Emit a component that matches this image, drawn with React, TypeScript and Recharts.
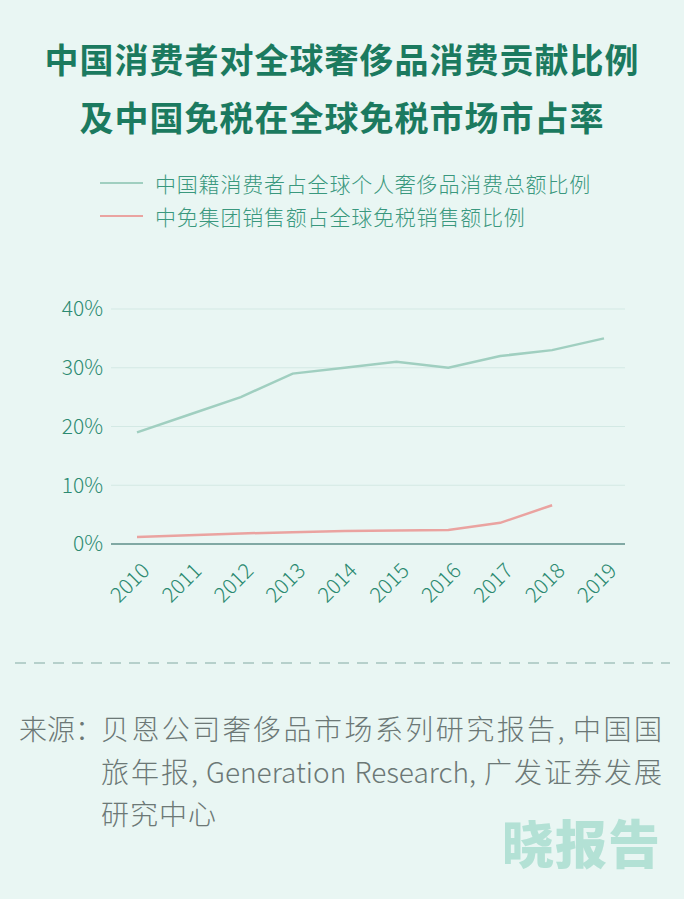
import React from "react";
import { LineChart, Line, XAxis, YAxis, CartesianGrid, Legend } from "recharts";

const years = ["2010", "2011", "2012", "2013", "2014", "2015", "2016", "2017", "2018", "2019"];
const chinaLuxuryShare = [19, 22, 25, 29, 30, 31, 30, 32, 33, 35];
const cdfgDutyFreeShare = [1.2, 1.5, 1.8, 2.0, 2.2, 2.3, 2.4, 3.6, 6.6, null];
const yTicks = [0, 10, 20, 30, 40];

const seriesNames = ["中国籍消费者占全球个人奢侈品消费总额比例", "中免集团销售额占全球免税销售额比例"];
const titleLines = ["中国消费者对全球奢侈品消费贡献比例", "及中国免税在全球免税市场市占率"];
const sourceLabel = "来源：";
const sourceLines = [
  "贝恩公司奢侈品市场系列研究报告, 中国国",
  "旅年报, Generation Research, 广发证券发展",
  "研究中心",
];

const data = years.map((year, i) => ({
  year,
  luxury: chinaLuxuryShare[i],
  dutyFree: cdfgDutyFreeShare[i],
}));

const FONT = '"Noto Sans CJK SC", "Noto Sans", sans-serif';
const GREEN = "#a0cfc0";
const RED = "#eaa3a0";
const TICK = "#2c8a71";

function YearTick({ x, y, payload }: any) {
  return (
    <text
      x={x + 14}
      y={y + 26}
      transform={`rotate(-45, ${x + 14}, ${y + 26})`}
      textAnchor="end"
      fill={TICK}
      fontSize={21}
      fontWeight={300}
      fontFamily={FONT}
    >
      {payload.value}
    </text>
  );
}

function LegendBox({ payload }: any) {
  const items = [...(payload || [])].sort(
    (a: any, b: any) => seriesNames.indexOf(a.value) - seriesNames.indexOf(b.value)
  );
  return (
    <div style={{ fontFamily: FONT }}>
      {items.map((item: any) => (
        <div key={item.value} style={{ display: "flex", alignItems: "center", height: 33 }}>
          <span style={{ display: "inline-block", width: 43, height: 2, background: item.color, marginRight: 12 }} />
          <span style={{ color: "#3a987e", fontSize: 21, fontWeight: 300, letterSpacing: 0.8 }}>{item.value}</span>
        </div>
      ))}
    </div>
  );
}

export default function App() {
  return (
    <div style={{ position: "relative", width: 684, height: 899, background: "#e9f6f3", fontFamily: FONT, overflow: "hidden" }}>
      <style>{"body{margin:0}"}</style>
      {titleLines.map((t, i) => (
        <div
          key={t}
          style={{
            position: "absolute",
            top: 37 + i * 58,
            left: 0,
            width: 684,
            textAlign: "center",
            fontSize: 34,
            lineHeight: "44px",
            fontWeight: 700,
            color: "#1b7a5f",
            letterSpacing: 1,
          }}
        >
          {t}
        </div>
      ))}

      <div style={{ position: "absolute", top: 0, left: 0 }}>
        <LineChart width={684} height={620} data={data} margin={{ top: 309, right: 59, bottom: 0, left: 0 }}>
          <CartesianGrid vertical={false} stroke="#d3e9e4" strokeWidth={1} />
          <XAxis
            dataKey="year"
            height={76}
            interval={0}
            tick={<YearTick />}
            tickLine={false}
            tickSize={0}
            axisLine={{ stroke: "#24625d", strokeWidth: 1.2 }}
            padding={{ left: 26, right: 21 }}
          />
          <YAxis
            width={111}
            domain={[0, 40]}
            ticks={yTicks}
            tickFormatter={(v) => `${v}%`}
            axisLine={false}
            tickLine={false}
            tickSize={0}
            tickMargin={8}
            tick={{ fill: TICK, fontSize: 21, fontWeight: 300, fontFamily: FONT }}
          />
          <Legend
            layout="horizontal"
            verticalAlign="middle"
            align="center"
            wrapperStyle={{ top: 166, left: 100, width: 560 }}
            content={<LegendBox />}
          />
          <Line
            name={seriesNames[0]}
            type="linear"
            dataKey="luxury"
            stroke={GREEN}
            strokeWidth={2.5}
            dot={false}
            isAnimationActive={false}
          />
          <Line
            name={seriesNames[1]}
            type="linear"
            dataKey="dutyFree"
            stroke={RED}
            strokeWidth={2.5}
            dot={false}
            isAnimationActive={false}
          />
        </LineChart>
      </div>

      <div
        style={{
          position: "absolute",
          top: 662,
          left: 15,
          width: 655,
          height: 1.5,
          background: "repeating-linear-gradient(to right, #b6d0cb 0 11px, transparent 11px 19px)",
        }}
      />

      <div
        style={{
          position: "absolute",
          top: 708,
          left: 19,
          fontSize: 28,
          lineHeight: "40px",
          fontWeight: 300,
          color: "#6c7876",
          whiteSpace: "nowrap",
        }}
      >
        {sourceLabel}
      </div>
      {sourceLines.map((t, i) => (
        <div
          key={t}
          style={{
            position: "absolute",
            top: 708 + i * 42.5,
            left: 101,
            width: i < 2 ? 561 : undefined,
            fontSize: 28,
            lineHeight: "40px",
            fontWeight: 300,
            color: "#6c7876",
            letterSpacing: i < 2 ? 0 : 1,
            textAlign: i < 2 ? "justify" : "left",
            textAlignLast: i < 2 ? "justify" : "auto",
            whiteSpace: "nowrap",
          }}
        >
          {t}
        </div>
      ))}

      <div
        style={{
          position: "absolute",
          top: 812,
          left: 502,
          fontSize: 52,
          lineHeight: "60px",
          fontWeight: 900,
          color: "#b3e1d5",
          letterSpacing: 1,
        }}
      >
        晓报告
      </div>
    </div>
  );
}
